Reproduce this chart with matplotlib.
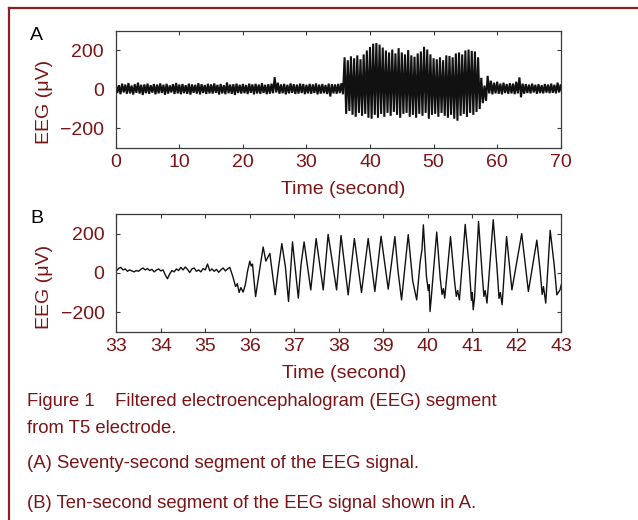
import numpy as np
import matplotlib
matplotlib.use("Agg")
import matplotlib.pyplot as plt
from matplotlib.lines import Line2D

plt.rcParams["font.family"] = ["Liberation Sans", "DejaVu Sans"]

DARKRED = "#7a1416"
FRAME = "#8a2224"
SPINE = "#3a3a3a"

# ---------------- Panel A: 70 s segment, envelope per 0.5 s bin ----------------
A_step = 0.5
A_hi = [28, 22, 30, 25, 33, 20, 27, 35, 24, 26,
        30, 22, 28, 25, 31, 24, 29, 21, 27, 33,
        25, 28, 22, 30, 26, 24, 32, 27, 23, 29,
        26, 31, 24, 28, 22, 36, 25, 27, 30, 24,
        28, 23, 30, 26, 29, 25, 32, 24, 27, 30,
        63, 35, 26, 29, 24, 31, 27, 25, 30, 28,
        24, 29, 26, 31, 25, 28, 23, 30, 27, 26, 29, 32,
        165, 150, 170, 160, 175, 155, 180, 200, 218, 235,
        238, 230, 215, 200, 190, 205, 185, 212, 190, 180,
        202, 175, 168, 185, 195, 219, 205, 180, 160, 155,
        165, 150, 175, 172, 165, 185, 190, 180, 200, 205,
        198, 195, 165, 60,
        20, 70, 45, 35, 40, 30, 35, 28, 32, 30,
        40, 62, 30, 28, 25, 30, 24, 27, 22, 28,
        25, 30, 24, 35, 26]
A_lo = [-18, -24, -15, -22, -20, -26, -17, -21, -28, -19,
        -22, -16, -25, -20, -18, -27, -21, -15, -23, -20,
        -24, -19, -22, -26, -17, -21, -25, -18, -23, -20,
        -21, -17, -26, -20, -24, -19, -22, -28, -18, -21,
        -19, -23, -17, -25, -20, -22, -18, -24, -21, -19,
        -15, -22, -19, -25, -20, -17, -23, -21, -18, -24,
        -20, -22, -18, -25, -21, -19, -23, -36, -20, -22, -18, -24,
        -125, -110, -130, -140, -120, -135, -125, -145, -150, -130,
        -145, -125, -140, -120, -135, -115, -130, -145, -125, -120,
        -140, -130, -145, -125, -135, -120, -150, -130, -125, -140,
        -120, -135, -145, -130, -150, -160, -135, -125, -140, -120,
        -130, -115, -100, -70,
        -58, -20, -25, -20, -22, -25, -18, -22, -20, -24,
        -20, -40, -22, -18, -20, -15, -22, -18, -20, -16,
        -19, -17, -20, -15, -18]
A_xticks = [0, 10, 20, 30, 40, 50, 60, 70]

# ---------------- Panel B: 10 s segment (33-43 s) ----------------
B_time = [33.00, 33.05, 33.10, 33.15, 33.20, 33.25, 33.30, 33.35, 33.40, 33.45,
          33.50, 33.55, 33.60, 33.65, 33.70, 33.75, 33.80, 33.85, 33.90, 33.95,
          34.00, 34.05, 34.10, 34.15, 34.20, 34.25, 34.30, 34.35, 34.40, 34.45,
          34.50, 34.55, 34.60, 34.65, 34.70, 34.75, 34.80, 34.85, 34.90, 34.95,
          35.00, 35.05, 35.10, 35.15, 35.20, 35.25, 35.30, 35.35, 35.40, 35.45,
          35.50, 35.55,
          35.62, 35.68, 35.72, 35.76, 35.80, 35.85, 35.90, 35.95, 36.00, 36.03,
          36.06, 36.13, 36.21, 36.30, 36.36, 36.45, 36.57, 36.64, 36.72, 36.80,
          36.87, 36.96, 37.09, 37.15, 37.22, 37.37, 37.49, 37.56, 37.65, 37.76,
          37.95, 38.05, 38.21, 38.35, 38.51, 38.66, 38.81, 38.95, 39.11, 39.26,
          39.33, 39.41, 39.56, 39.66, 39.75, 39.83, 39.87, 39.90, 39.97, 40.01,
          40.03, 40.05, 40.08, 40.20, 40.28, 40.32, 40.35, 40.38, 40.51, 40.60,
          40.64, 40.67, 40.71, 40.80, 40.84, 40.93, 40.98, 41.00, 41.02, 41.05,
          41.14, 41.22, 41.26, 41.29, 41.33, 41.47, 41.56, 41.60, 41.63, 41.67,
          41.77, 41.89, 42.11, 42.26, 42.45, 42.52, 42.57, 42.60, 42.65, 42.75,
          42.84, 42.90, 42.97, 43.00]
B_uv = [10, 22, 28, 15, 20, 8, 15, 10, 5, 12,
        8, 18, 25, 15, 22, 12, 18, 5, 14, 20,
        10, 15, -10, -30, -5, 12, 5, 20, 12, 28,
        15, 30, 18, 2, 20, 25, 8, 15, 5, 22,
        15, 45, 10, 20, 8, 18, 3, 15, 25, 10,
        20, 28,
        -20, -70, -55, -100, -75, -98, -60, 10, 60, 35,
        45, -121, 0, 132, 60, 99, -112, 20, 149, 30,
        -146, 158, -129, 40, 158, -87, 175, 60, -87, 196,
        -87, 191, -112, 175, -100, 175, -95, 187, -83, 185,
        10, -138, 195, -40, -138, 60, 120, 245, -20, -90,
        -60, -197, -120, 208, -30, -110, -80, -129, 185, -40,
        -120, -90, -138, 120, 247, 30, -140, -100, -188, -130,
        262, 0, -120, -90, -154, 271, 10, -130, -100, -163,
        185, -87, 200, -95, 167, 20, -110, -70, -154, 217,
        40, -112, -87, -60]
B_xticks = [33, 34, 35, 36, 37, 38, 39, 40, 41, 42, 43]

Y_ticks = [-200, 0, 200]
Y_ticklabels = ["\u2212200", "0", "200"]

fig = plt.figure(figsize=(6.38, 5.2), dpi=100)


def style_axes(ax, xticks, xlim):
    ax.set_xlim(*xlim)
    ax.set_ylim(-300, 300)
    ax.set_xticks(xticks)
    ax.set_xticklabels([str(v) for v in xticks])
    ax.set_yticks(Y_ticks)
    ax.set_yticklabels(Y_ticklabels)
    for s in ax.spines.values():
        s.set_color(SPINE)
        s.set_linewidth(0.9)
    ax.tick_params(axis="both", direction="in", top=True, right=True,
                   length=3, width=0.8, color=SPINE,
                   labelcolor=DARKRED, labelsize=14)
    ax.tick_params(axis="x", pad=4.5)
    ax.tick_params(axis="y", pad=8.5)
    ax.set_ylabel("EEG (\u03bcV)", fontsize=14, color=DARKRED)
    ax.set_xlabel("Time (second)", fontsize=14, color=DARKRED)
    ax.xaxis.label.set_va("baseline")
    ax.yaxis.label.set_ha("center")
    ax.yaxis.label.set_va("center")


# Panel A
axA = fig.add_axes([0.1814, 0.7154, 0.6975, 0.2250])
n = len(A_hi)
t_hi = np.arange(n) * A_step
t_lo = t_hi + A_step / 2
xa = np.empty(2 * n)
ya = np.empty(2 * n)
xa[0::2] = t_hi
xa[1::2] = t_lo
ya[0::2] = A_hi
ya[1::2] = A_lo
axA.plot(xa, ya, color="#111111", lw=1.5, solid_joinstyle="miter")
style_axes(axA, A_xticks, (0, 70))
axA.xaxis.set_label_coords(0.511, -0.389)
axA.yaxis.set_label_coords(-0.161, 0.39)

# Panel B
axB = fig.add_axes([0.1823, 0.3621, 0.6975, 0.2263])
axB.plot(B_time, B_uv, color="#111111", lw=1.0)
style_axes(axB, B_xticks, (33, 43))
axB.xaxis.set_label_coords(0.511, -0.393)
axB.yaxis.set_label_coords(-0.161, 0.382)

# Panel letters
fig.text(30 / 638, 1 - 40 / 520, "A", fontsize=14, color="black", va="baseline")
fig.text(30 / 638, 1 - 223 / 520, "B", fontsize=14, color="black", va="baseline")

# Caption
cap_x = 27 / 638
caption = [
    ("Figure 1    Filtered electroencephalogram (EEG) segment", 406.5),
    ("from T5 electrode.", 433),
    ("(A) Seventy-second segment of the EEG signal.", 468),
    ("(B) Ten-second segment of the EEG signal shown in A.", 508),
]
for txt, yb in caption:
    fig.text(cap_x, 1 - yb / 520, txt, fontsize=13.3, color=DARKRED, va="baseline")

# Frame
fig.add_artist(Line2D([9 / 638, 1.01], [1 - 8 / 520, 1 - 8 / 520],
                      transform=fig.transFigure, color=FRAME, lw=1.6))
fig.add_artist(Line2D([9 / 638, 9 / 638], [1 - 8 / 520, -0.01],
                      transform=fig.transFigure, color=FRAME, lw=1.6))

fig.savefig("out.png", dpi=100)
